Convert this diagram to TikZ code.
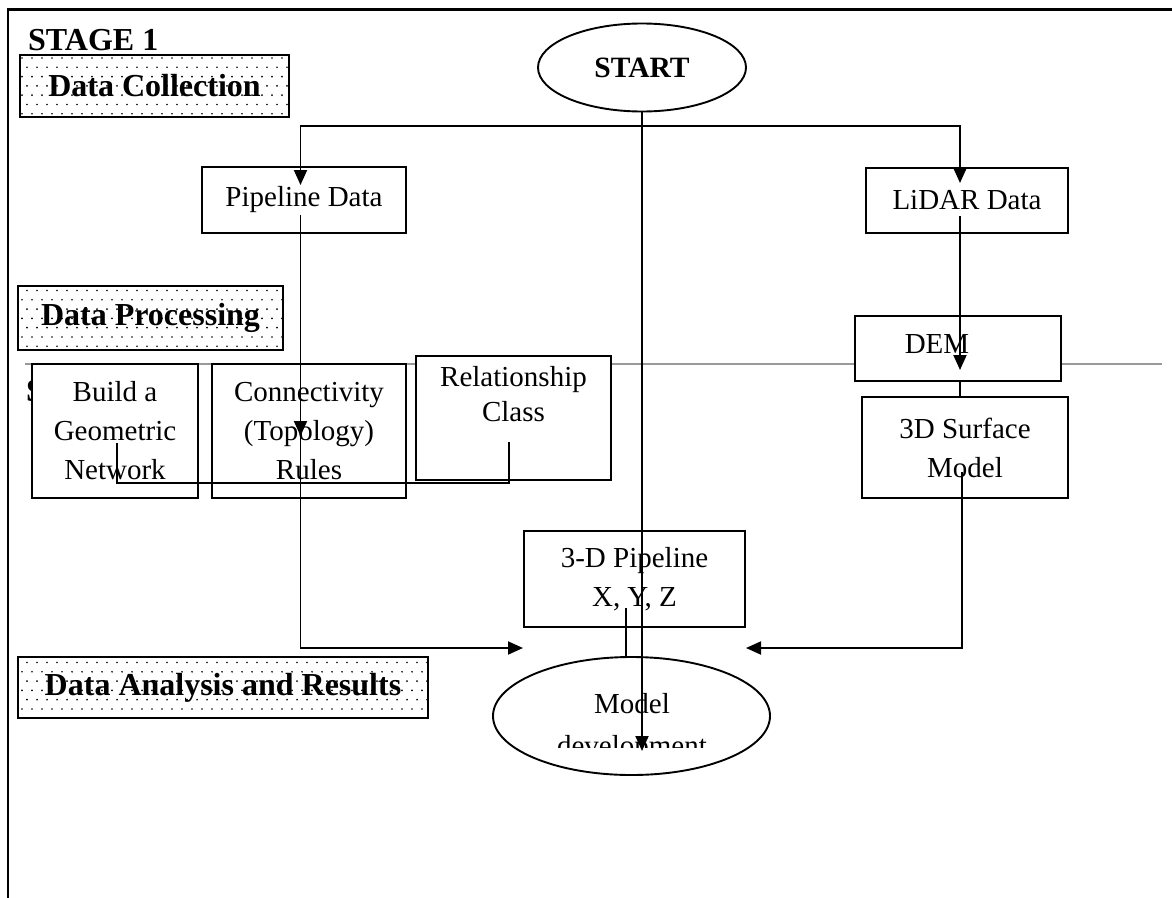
\documentclass[tikz,border=0pt]{standalone}
\usepackage{fontspec}
\setmainfont{Liberation Serif}
\usetikzlibrary{shapes.geometric,arrows.meta,patterns,calc}
\pgfdeclarepatternformonly{wdots}{\pgfpoint{-1pt}{-1pt}}{\pgfpoint{11pt}{19.6pt}}{\pgfpoint{10pt}{18.6pt}}{%
  \pgfpathcircle{\pgfpoint{2pt}{2pt}}{0.95pt}%
  \pgfpathcircle{\pgfpoint{7pt}{11.3pt}}{0.95pt}%
  \pgfusepath{fill}}
\begin{document}
\begin{tikzpicture}[x=1pt,y=-1pt,
  frame/.style={line width=2.2pt, line cap=rect},
  boxa/.style={draw, line width=2pt, fill=white, rectangle, inner sep=0pt, font=\fontsize{29}{39}\selectfont},
  stagebox/.style={draw, line width=2pt, pattern=wdots, rectangle, inner sep=0pt, font=\fontsize{32}{38}\selectfont\bfseries},
  oval/.style={draw, ellipse, line width=1.9pt, fill=white, inner sep=0pt},
  conn/.style={line width=1.9pt},
  arr/.style={conn, -{Triangle[length=15pt,width=13pt]}},
  sep/.style={line width=1.4pt, draw=black!40}
]
\useasboundingbox (0,0) rectangle (1172,897);
\draw[frame] (8,897) -- (8,9.5) -- (1172,9.5);
\draw[sep] (25,364) -- (1162,364);
\node[anchor=base west, inner sep=0pt, font=\fontsize{32}{38}\selectfont\bfseries] (s2) at (26,401) {S};
\node[anchor=base west, inner sep=0pt, font=\fontsize{32}{38}\selectfont\bfseries] (stage) at (28,50) {STAGE 1};
\node[stagebox, minimum width=269pt, minimum height=62pt] (dc) at (154.5,86) {Data Collection};
\node[stagebox, minimum width=265pt, minimum height=64pt] (dp) at (150.5,318) {Data Processing};
\node[stagebox, minimum width=410pt, minimum height=61pt] (da) at (223,687.5) {Data Analysis and Results};
\node[oval, minimum width=208pt, minimum height=88pt, font=\fontsize{29.5}{35}\selectfont\bfseries] (start) at (642,67.5) {START};
\node[boxa, minimum width=204pt, minimum height=66pt] (pd) at (304,200) {Pipeline Data};
\node[boxa, minimum width=202pt, minimum height=65pt] (ld) at (967,200.5) {LiDAR Data};
\node[boxa, minimum width=206pt, minimum height=65pt, text depth=10pt] (dem) at (958,348.5) {DEM\hspace*{42pt}};
\node[boxa, align=center, minimum width=206pt, minimum height=101pt] (surf) at (965,447.5) {3D Surface\\Model};
\node[boxa, align=center, minimum width=166pt, minimum height=134pt] (geo) at (115,431) {Build a\\Geometric\\Network};
\node[boxa, align=center, minimum width=194pt, minimum height=134pt] (topo) at (309,431) {Connectivity\\(Topology)\\Rules};
\node[boxa, align=center, minimum width=195pt, minimum height=124pt, font=\fontsize{29}{35}\selectfont, text depth=48.8pt] (rel) at (513.5,418) {Relationship\\Class};
\node[boxa, align=center, minimum width=221pt, minimum height=96pt] (p3d) at (634.5,579) {3-D Pipeline\\X, Y, Z};
\node[oval, minimum width=277pt, minimum height=118pt] (model) at (631.5,716) {};
\begin{scope}
\clip (model.west |- 0,650) rectangle (model.east |- 0,747);
\node[anchor=north, inner sep=0pt, align=center, font=\fontsize{29}{42}\selectfont] (modeltext) at (632,693.2) {Model\\development};
\end{scope}
\coordinate (bus) at (0,126);
\coordinate (pdin) at (300.5,185);
\coordinate (ldin) at (960,183);
\draw[arr] (start.south |- bus) -| (pdin);
\draw[arr] (start.south |- bus) -| (ldin);
\coordinate (cend) at (642,751);
\draw[arr] (start) -- (cend);
\coordinate (pdout) at (300.5,215);
\coordinate (topoin) at (300.5,436);
\draw[arr] (pdout) -- (topoin);
\coordinate (mlin) at (523,648);
\draw[arr] (topoin) |- (mlin);
\coordinate (ldout) at (960,216);
\coordinate (demin) at (960,370);
\draw[arr] (ldout) -- (demin);
\draw[conn] (dem.south -| ldout) -- (surf.north -| ldout);
\coordinate (surfout) at (962,472);
\coordinate (mrin) at (746,648);
\draw[arr] (surfout) |- (mrin);
\coordinate (p3dout) at (626,608);
\draw[conn] (p3dout) -- (model.north -| p3dout);
\coordinate (geoin) at (117,443);
\coordinate (relin) at (509,442);
\coordinate (link) at (0,483);
\draw[conn] (geoin) -- (geoin |- link) -| (relin);
\end{tikzpicture}
\end{document}
